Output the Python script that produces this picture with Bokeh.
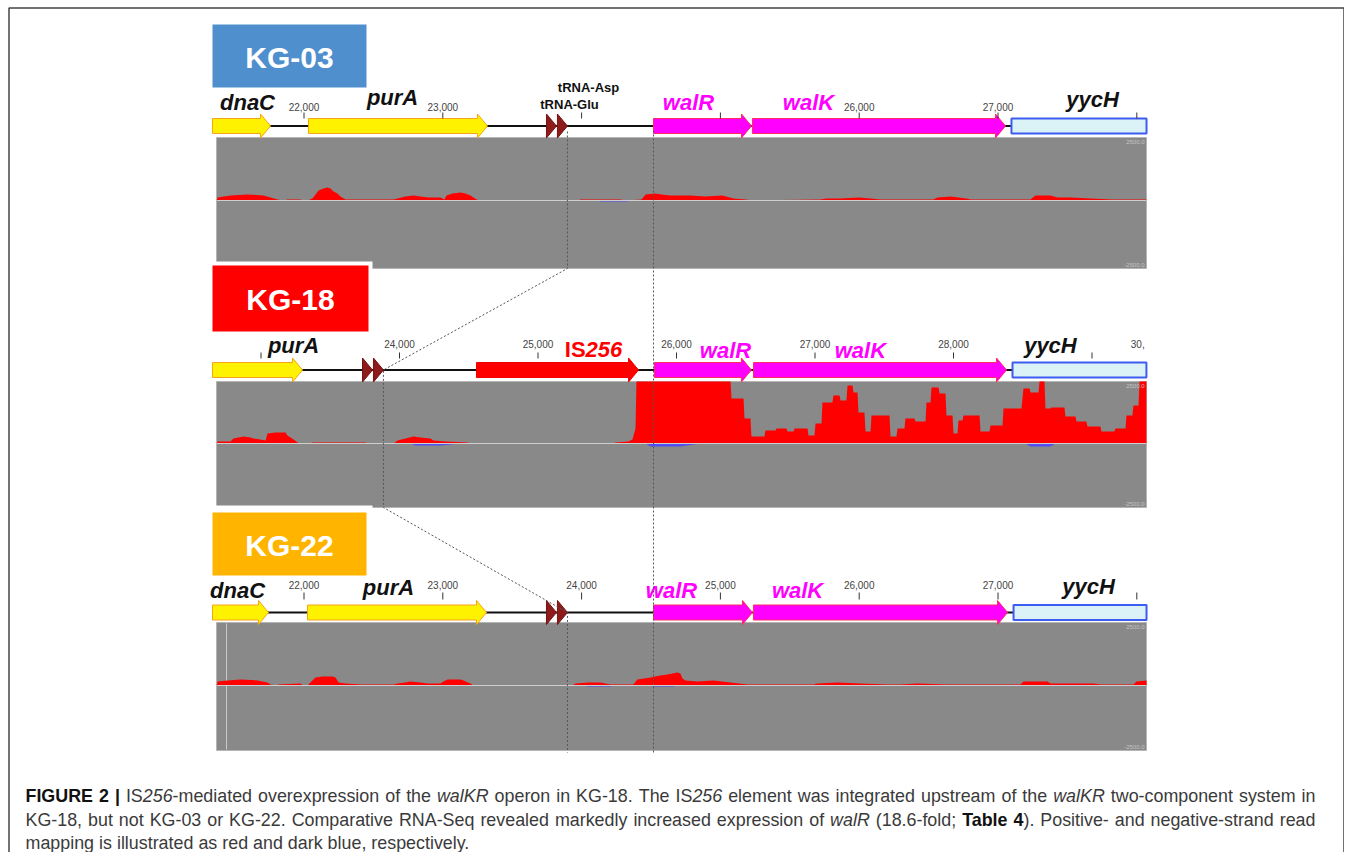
import os, glob
from bokeh.plotting import figure
from bokeh.models import Range1d, ColumnDataSource
from bokeh.core.properties import value, field
from bokeh.embed import file_html
from bokeh.resources import INLINE

# ------------------------------------------------------------------ data
strains = ["KG-03", "KG-18", "KG-22"]
strain_colors = ["#4F8FCD", "#FF0000", "#FFB400"]

# gene tracks (bp)
kg03_genes = ["dnaC", "purA", "tRNA-Glu", "tRNA-Asp", "walR", "walK", "yycH"]
kg03_start = [21341, 22032, 23747, 23826, 24518, 25231, 27097]
kg03_end = [21759, 23322, 23819, 23898, 25224, 27054, 28070]

kg18_genes = ["purA", "tRNA-Glu", "tRNA-Asp", "IS256", "walR", "walK", "yycH"]
kg18_start = [22650, 23733, 23812, 24556, 25841, 26556, 28426]
kg18_end = [23300, 23805, 23884, 25726, 26541, 28383, 29393]

kg22_genes = ["dnaC", "purA", "tRNA-Glu", "tRNA-Asp", "walR", "walK", "yycH"]
kg22_start = [21341, 22025, 23747, 23826, 24518, 25238, 27112]
kg22_end = [21744, 23315, 23819, 23898, 25231, 27069, 28070]

# ruler ticks (bp)
kg03_ticks = [22000, 23000, 24000, 25000, 26000, 27000, 28000]
kg03_tick_labels = [22000, 23000, 26000, 27000]
kg18_ticks = [23000, 24000, 25000, 26000, 27000, 28000, 29000]
kg18_tick_labels = [24000, 25000, 26000, 27000, 28000]
kg18_cut_label = ["30,"]
kg18_cut_label_pos = [29330]
kg22_ticks = [22000, 23000, 24000, 25000, 26000, 27000, 28000]
kg22_tick_labels = [22000, 23000, 24000, 25000, 26000, 27000]

# RNA-Seq read coverage (positive strand, reads; display clipped at 2500)
kg03_pos_cov = [(21370, 0), (21377, 120), (21470, 200), (21593, 240), (21708, 200), (21758, 120),
                (21809, 40), (21852, 0), (21881, 40), (21975, 40), (21989, 0), (22025, 0),
                (22061, 80), (22083, 240), (22105, 400), (22140, 480), (22169, 520), (22191, 480),
                (22213, 360), (22241, 280), (22263, 160), (22299, 40), (22645, 40), (22674, 80),
                (22731, 160), (22789, 200), (22839, 160), (22897, 120), (22983, 120), (23012, 40),
                (23026, 200), (23070, 280), (23127, 320), (23163, 280), (23199, 200), (23243, 40),
                (23272, 0), (23971, 0), (23992, 40), (24280, 40), (24323, 0), (24432, 40),
                (24461, 240), (24532, 280), (24575, 240), (24640, 200), (24784, 200), (24892, 160),
                (25015, 200), (25094, 80), (25181, 40), (25239, 0), (25721, 40), (25764, 80),
                (25865, 80), (25995, 120), (26081, 80), (26153, 40), (26535, 40), (26564, 120),
                (26658, 160), (26715, 120), (26773, 80), (26802, 40), (26968, 40), (27234, 40),
                (27270, 200), (27378, 200), (27429, 120), (27522, 120), (27666, 80), (27825, 40),
                (28070, 40)]
kg03_neg_cov = [(24120, 0), (24136, -40), (24330, -40), (24345, 0)]

kg18_pos_cov = [(22679, 0), (22686, 80), (22780, 80), (22801, 200), (22874, 280), (22924, 240),
                (22946, 200), (22996, 160), (23033, 120), (23047, 400), (23105, 440), (23177, 440),
                (23191, 320), (23235, 160), (23264, 40), (23285, 0), (23357, 0), (23372, 40),
                (23755, 40), (23769, 0), (23957, 0), (23986, 120), (24043, 200), (24101, 280),
                (24152, 240), (24224, 200), (24245, 120), (24332, 80), (24491, 40), (24513, 0),
                (25545, 0), (25560, 40), (25653, 80), (25682, 160), (25704, 600), (25711, 2500),
                (26390, 2500), (26397, 1810), (26484, 1810), (26491, 1010), (26534, 1010),
                (26541, 280), (26635, 280), (26642, 520), (26715, 520), (26722, 600), (26794, 600),
                (26801, 480), (26845, 480), (26852, 600), (26946, 600), (26953, 320), (26996, 320),
                (27004, 810), (27047, 810), (27054, 1650), (27126, 1650), (27133, 1940),
                (27177, 1940), (27184, 1730), (27227, 1730), (27235, 2340), (27271, 2340),
                (27278, 2060), (27307, 2060), (27314, 1250), (27357, 1250), (27365, 480),
                (27401, 480), (27408, 1130), (27538, 1130), (27545, 280), (27588, 280),
                (27596, 600), (27646, 600), (27653, 1010), (27718, 1010), (27726, 890),
                (27798, 890), (27805, 1650), (27834, 1650), (27841, 2260), (27892, 2260),
                (27899, 2020), (27942, 2020), (27949, 1130), (27993, 1130), (28000, 400),
                (28029, 400), (28036, 930), (28065, 930), (28072, 1130), (28188, 1130),
                (28195, 480), (28260, 480), (28267, 730), (28354, 730), (28361, 1410),
                (28491, 1410), (28505, 2220), (28549, 2220), (28556, 2060), (28614, 2060),
                (28621, 2500), (28657, 2500), (28664, 1410), (28700, 1410), (28707, 1450),
                (28801, 1450), (28809, 1090), (28881, 1090), (28888, 890), (28960, 890),
                (28967, 690), (29061, 690), (29068, 480), (29162, 480), (29169, 600),
                (29242, 600), (29249, 1130), (29292, 1130), (29299, 1530), (29336, 1530),
                (29343, 2500), (29393, 2500)]
kg18_neg_cov = [(24079, 0), (24116, -80), (24296, -80), (24440, 0), (25776, 0), (25812, -120),
                (26029, -120), (26173, 0), (28520, 0), (28556, -120), (28700, -120), (28736, 0)]

kg22_pos_cov = [(21370, 0), (21377, 160), (21449, 200), (21542, 240), (21665, 200), (21737, 120),
                (21758, 40), (21809, 0), (21816, 40), (21975, 80), (21996, 0), (22025, 0),
                (22061, 200), (22083, 320), (22133, 360), (22205, 360), (22227, 320), (22249, 120),
                (22299, 80), (22407, 40), (22645, 40), (22674, 80), (22731, 120), (22767, 160),
                (22839, 120), (22890, 80), (22983, 80), (23005, 160), (23034, 240), (23127, 240),
                (23149, 200), (23199, 80), (23221, 0), (23934, 0), (23956, 80), (24049, 120),
                (24135, 120), (24207, 40), (24373, 40), (24402, 240), (24496, 320), (24568, 400),
                (24618, 440), (24690, 520), (24712, 480), (24726, 280), (24748, 200), (24835, 160),
                (24950, 200), (25072, 120), (25195, 40), (25670, 40), (25699, 80), (25843, 120),
                (26009, 80), (26203, 40), (26297, 40), (26419, 80), (26628, 40), (26708, 40),
                (26816, 40), (27018, 40), (27162, 40), (27184, 160), (27357, 160), (27378, 80),
                (27688, 80), (27738, 40), (27976, 40), (27998, 160), (28070, 200)]
kg22_neg_cov = [(24020, 0), (24043, -40), (24208, -40), (24230, 0), (24500, 0), (24518, -40),
                (24662, -40), (24680, 0)]

cov_scale_labels = ["2500.0", "-2500.0"]

caption_lines = [
    [("FIGURE 2 |", "bold"), (" IS", "normal"), ("256", "italic"),
     ("-mediated overexpression of the ", "normal"), ("walKR", "italic"),
     (" operon in KG-18. The IS", "normal"), ("256", "italic"),
     (" element was integrated upstream of the ", "normal"), ("walKR", "italic"),
     (" two-component system in", "normal")],
    [("KG-18, but not KG-03 or KG-22. Comparative RNA-Seq revealed markedly increased expression of ", "normal"),
     ("walR", "italic"), (" (18.6-fold; ", "normal"), ("Table 4", "bold"),
     ("). Positive- and negative-strand read", "normal")],
    [("mapping is illustrated as red and dark blue, respectively.", "normal")],
]

# ------------------------------------------------------------------ styles / layout
FONT = "Liberation Sans"
GENE_STYLE = {
    "dnaC": dict(kind="arrow", fill="#FFF200", line="#F5A31A", lw=1, label="#111111"),
    "purA": dict(kind="arrow", fill="#FFF200", line="#F5A31A", lw=1, label="#111111"),
    "tRNA-Glu": dict(kind="tri", fill="#8E1B1B", line="#741414", lw=1, label="#111111"),
    "tRNA-Asp": dict(kind="tri", fill="#8E1B1B", line="#741414", lw=1, label="#111111"),
    "IS256": dict(kind="arrow", fill="#FF0000", line="#F00000", lw=1, label="#FF0000"),
    "walR": dict(kind="arrow", fill="#FF00FF", line="#FF2D5F", lw=1, label="#FF00FF"),
    "walK": dict(kind="arrow", fill="#FF00FF", line="#FF2D5F", lw=1, label="#FF00FF"),
    "yycH": dict(kind="box", fill="#DBF2F7", line="#3C5CF2", lw=2, label="#111111"),
}
HEAD_PX = 10
BODY = 7.5
HEAD = 12
VIEW_L, VIEW_R = 216, 1146
LABEL_MID = 8  # distance from text baseline to its visual middle (22px bold italic)

panels = [
    dict(genes=kg03_genes, start=kg03_start, end=kg03_end, ticks=kg03_ticks, tlabels=kg03_tick_labels,
         pos=kg03_pos_cov, neg=kg03_neg_cov, anchor=(22000, 303.5, 138.8),
         track_y=125.5, tick_y=(112, 118), tlabel_y=106, gray=(137, 268), zero=200,
         box=(212, 366, 24, 87), pad=None,
         labels={"dnaC": (21593, 110), "purA": (22638, 105), "walR": (24770, 110),
                 "walK": (25635, 110), "yycH": (27681, 107)},
         small={"tRNA-Asp": (24050, 87), "tRNA-Glu": (23913, 104)}),
    dict(genes=kg18_genes, start=kg18_start, end=kg18_end, ticks=kg18_ticks, tlabels=kg18_tick_labels,
         pos=kg18_pos_cov, neg=kg18_neg_cov, anchor=(24000, 399.0, 138.5),
         track_y=369.5, tick_y=(352, 358), tlabel_y=343, gray=(381, 507), zero=443,
         box=(212, 368, 265, 331), pad=(208, 372, 261, 335),
         labels={"purA": (23235, 353), "walR": (26354, 358), "walK": (27328, 358),
                 "yycH": (28700, 353)},
         small={}),
    dict(genes=kg22_genes, start=kg22_start, end=kg22_end, ticks=kg22_ticks, tlabels=kg22_tick_labels,
         pos=kg22_pos_cov, neg=kg22_neg_cov, anchor=(22000, 303.5, 138.8),
         track_y=612, tick_y=(592, 599), tlabel_y=584, gray=(622, 750), zero=685,
         box=(212, 366, 512, 575), pad=(208, 372, 505, 579),
         labels={"dnaC": (21521, 598), "purA": (22609, 595), "walR": (24648, 598),
                 "walK": (25556, 598), "yycH": (27652, 594)},
         small={}),
]
IS_LABEL = (25401, 357)

# ------------------------------------------------------------------ text metrics
try:
    from PIL import ImageFont
except Exception:
    ImageFont = None
_font_files = {"normal": "LiberationSans-Regular.ttf", "bold": "LiberationSans-Bold.ttf",
               "italic": "LiberationSans-Italic.ttf", "bold italic": "LiberationSans-BoldItalic.ttf"}
_cache = {}


def _load(style):
    if style in _cache:
        return _cache[style]
    f = None
    if ImageFont is not None:
        for root in ("/usr/share/fonts", "/usr/local/share/fonts",
                     os.path.expanduser("~/.fonts"), os.path.expanduser("~/.local/share/fonts")):
            hits = glob.glob(os.path.join(root, "**", _font_files[style]), recursive=True)
            if hits:
                try:
                    f = ImageFont.truetype(hits[0], 100)
                except Exception:
                    f = None
                break
    _cache[style] = f
    return f


def text_width(s, style, size):
    f = _load(style)
    if f is None:
        return len(s) * size * (0.56 if "bold" in style else 0.5)
    return f.getlength(s) * size / 100.0


# ------------------------------------------------------------------ figure
W, H = 1344, 852
X0, X1 = 0, W
Y0, Y1 = 0, H
p = figure(width=W, height=H, x_range=Range1d(X0, X1), y_range=Range1d(Y1, Y0),
           output_backend="svg", toolbar_location=None, min_border=0)
p.axis.visible = False
p.grid.visible = False
p.outline_line_color = None
p.background_fill_color = "white"
p.border_fill_color = "white"

for i, pn in enumerate(panels):
    g0, px0, ppk = pn["anchor"]
    bpp = 1000.0 / ppk
    pn["bpp"] = bpp
    xr = "g%d" % i
    yr = "c%d" % i
    pn["xr"], pn["yr"] = xr, yr
    p.extra_x_ranges[xr] = Range1d(g0 + (X0 - px0) * bpp, g0 + (X1 - px0) * bpp)
    rpp = 2500.0 / (pn["zero"] - pn["gray"][0])
    p.extra_y_ranges[yr] = Range1d((pn["zero"] - Y1) * rpp, (pn["zero"] - Y0) * rpp)


def to_px(pn, g):
    g0, px0, ppk = pn["anchor"]
    return px0 + (g - g0) * ppk / 1000.0


# frame border
p.line(x=[8.5, 8.5, 1343.5, 1343.5], y=[Y1, 7.5, 7.5, Y1], line_color="#444444", line_width=1.5)

for i, pn in enumerate(panels):
    xr, yr, bpp = pn["xr"], pn["yr"], pn["bpp"]
    gt, gb = pn["gray"]
    # coverage panel
    p.quad(left=[VIEW_L], right=[VIEW_R], top=[gt], bottom=[gb], fill_color="#898989",
           line_color="#b5b5b5", line_width=1)
    if i == 2:
        p.line(x=[226, 226], y=[gt + 1, gb - 1], line_color="#c9c9c9", line_width=1)
    px_, pv = zip(*pn["pos"])
    p.varea(x=list(px_), y1=[0] * len(pv), y2=list(pv), x_range_name=xr, y_range_name=yr,
            fill_color="#FF0000")
    nx, nv = zip(*pn["neg"])
    p.varea(x=list(nx), y1=[0] * len(nv), y2=list(nv), x_range_name=xr, y_range_name=yr,
            fill_color="#4F4FF5")
    p.line(x=[VIEW_L, VIEW_R], y=[pn["zero"], pn["zero"]], line_color="#cfcfcf", line_width=1)
    p.text(x=[VIEW_R - 2, VIEW_R - 2], y=[gt + 4, gb - 4], text=cov_scale_labels,
           text_font=value(FONT), text_font_size="6px", text_color="#c4c4c4",
           text_align="right", text_baseline="middle")

    # track baseline
    ty = pn["track_y"]
    p.line(x=[212, VIEW_R], y=[ty, ty], line_color="#111111", line_width=2)

    # genes
    xs, ys, fills, lines, lws = [], [], [], [], []
    for n, s, e in zip(pn["genes"], pn["start"], pn["end"]):
        st = GENE_STYLE[n]
        if st["kind"] == "arrow":
            hs = e - min(HEAD_PX * bpp, e - s)
            xs.append([s, hs, hs, e, hs, hs, s])
            ys.append([ty - BODY, ty - BODY, ty - HEAD, ty, ty + HEAD, ty + BODY, ty + BODY])
        elif st["kind"] == "tri":
            xs.append([s, e, s])
            ys.append([ty - HEAD, ty, ty + HEAD])
        else:
            xs.append([s, e, e, s])
            ys.append([ty - BODY, ty - BODY, ty + BODY, ty + BODY])
        fills.append(st["fill"])
        lines.append(st["line"])
        lws.append(st["lw"])
    src = ColumnDataSource(dict(xs=xs, ys=ys, fill=fills, line=lines, lw=lws))
    p.patches(xs="xs", ys="ys", source=src, fill_color="fill", line_color="line",
              line_width="lw", x_range_name=xr)

    # ruler
    t0, t1 = pn["tick_y"]
    p.segment(x0=pn["ticks"], x1=pn["ticks"], y0=[t0] * len(pn["ticks"]), y1=[t1] * len(pn["ticks"]),
              line_color="#333333", line_width=1, x_range_name=xr)
    p.text(x=pn["tlabels"], y=[pn["tlabel_y"]] * len(pn["tlabels"]),
           text=["{:,}".format(t) for t in pn["tlabels"]], x_range_name=xr,
           text_font=value(FONT), text_font_size="10px", text_color="#444444",
           text_align="center", text_baseline="middle")
    if i == 1:
        p.text(x=kg18_cut_label_pos, y=[pn["tlabel_y"]], text=kg18_cut_label, x_range_name=xr,
               text_font=value(FONT), text_font_size="10px", text_color="#444444",
               text_align="center", text_baseline="middle")

    # gene labels
    names = list(pn["labels"].keys())
    p.text(x=[pn["labels"][n][0] for n in names], y=[pn["labels"][n][1] - LABEL_MID for n in names],
           text=names, text_color=[GENE_STYLE[n]["label"] for n in names], x_range_name=xr,
           text_font=value(FONT), text_font_size="22px", text_font_style="bold italic",
           text_align="center", text_baseline="middle")
    if pn["small"]:
        sn = list(pn["small"].keys())
        p.text(x=[pn["small"][n][0] for n in sn], y=[pn["small"][n][1] for n in sn], text=sn,
               x_range_name=xr, text_font=value(FONT), text_font_size="13px",
               text_font_style="bold", text_color="#111111", text_align="center",
               text_baseline="middle")
    if i == 1:
        w_is = text_width("IS", "bold", 22)
        w_num = text_width("256", "bold italic", 22)
        wt = w_is + w_num
        p.text(x=[IS_LABEL[0]], y=[IS_LABEL[1] - LABEL_MID], text=["IS"], x_range_name=xr,
               x_offset=-wt / 2, text_font=value(FONT), text_font_size="22px",
               text_font_style="bold", text_color="#FF0000", text_align="left",
               text_baseline="middle")
        p.text(x=[IS_LABEL[0]], y=[IS_LABEL[1] - LABEL_MID], text=["256"], x_range_name=xr,
               x_offset=-wt / 2 + w_is, text_font=value(FONT), text_font_size="22px",
               text_font_style="bold italic", text_color="#FF0000", text_align="left",
               text_baseline="middle")

# dotted guide lines (tRNA-Asp end and walR start)
def gene_end(pn, n):
    return pn["end"][pn["genes"].index(n)]


def gene_start(pn, n):
    return pn["start"][pn["genes"].index(n)]


xa = to_px(panels[0], gene_end(panels[0], "tRNA-Asp"))
xb = to_px(panels[1], gene_end(panels[1], "tRNA-Asp"))
xc = to_px(panels[2], gene_end(panels[2], "tRNA-Asp"))
p.line(x=[xa, xa, xb, xb, xc, xc],
       y=[131, panels[0]["gray"][1], panels[1]["track_y"], panels[1]["gray"][1],
          panels[2]["track_y"], 752],
       line_color="#555555", line_width=1, line_dash="2 2")
xw = to_px(panels[0], gene_start(panels[0], "walR"))
p.line(x=[xw, xw], y=[130, 752], line_color="#555555", line_width=1, line_dash="2 2")

# strain label boxes
for i, pn in enumerate(panels):
    if pn["pad"]:
        l, r, t, b = pn["pad"]
        p.quad(left=[l], right=[r], top=[t], bottom=[b], fill_color="white", line_color=None)
    l, r, t, b = pn["box"]
    p.quad(left=[l], right=[r], top=[t], bottom=[b], fill_color=strain_colors[i], line_color=None)
    p.text(x=[(l + r) / 2], y=[(t + b) / 2 + 1], text=[strains[i]], text_font=value(FONT),
           text_font_size="30px", text_font_style="bold", text_color="white",
           text_align="center", text_baseline="middle")

# caption (justified, mixed styles)
CAP_X0, CAP_X1 = 25, 1315
CAP_Y = [795, 819, 842]
JUSTIFY = [True, True, False]


def words_of(runs):
    words = [[]]
    for txt, style in runs:
        parts = txt.split(" ")
        for k, part in enumerate(parts):
            if k > 0:
                words.append([])
            if part:
                words[-1].append((part, style))
    return [w for w in words if w]


def natural_width(runs, fs):
    ws = words_of(runs)
    sp = text_width(" ", "normal", fs)
    return sum(text_width(t, s, fs) for w in ws for t, s in w) + sp * (len(ws) - 1)


target = CAP_X1 - CAP_X0
fs = 16.0 * 0.985 * target / max(natural_width(caption_lines[0], 16), natural_width(caption_lines[1], 16))
fs = max(14.0, min(18.5, fs))

cx, cy, ct, cs, cc = [], [], [], [], []
for li, runs in enumerate(caption_lines):
    ws = words_of(runs)
    sp = text_width(" ", "normal", fs)
    widths = [sum(text_width(t, s, fs) for t, s in w) for w in ws]
    gap = sp
    if JUSTIFY[li] and len(ws) > 1:
        gap = (target - sum(widths)) / (len(ws) - 1)
    x = CAP_X0
    for w, ww in zip(ws, widths):
        xx = x
        for t, s in w:
            cx.append(xx)
            cy.append(CAP_Y[li])
            ct.append(t)
            cs.append(s)
            cc.append("#111111" if s == "bold" else "#3a3a3a")
            xx += text_width(t, s, fs)
        x += ww + gap
csrc = ColumnDataSource(dict(x=cx, y=cy, text=ct, style=cs, color=cc))
p.text(x="x", y="y", text="text", source=csrc, text_font=value(FONT),
       text_font_size="%.2fpx" % fs, text_font_style=field("style"), text_color=field("color"),
       text_align="left", text_baseline="middle")

open("out.html", "w").write(file_html(p, INLINE))
